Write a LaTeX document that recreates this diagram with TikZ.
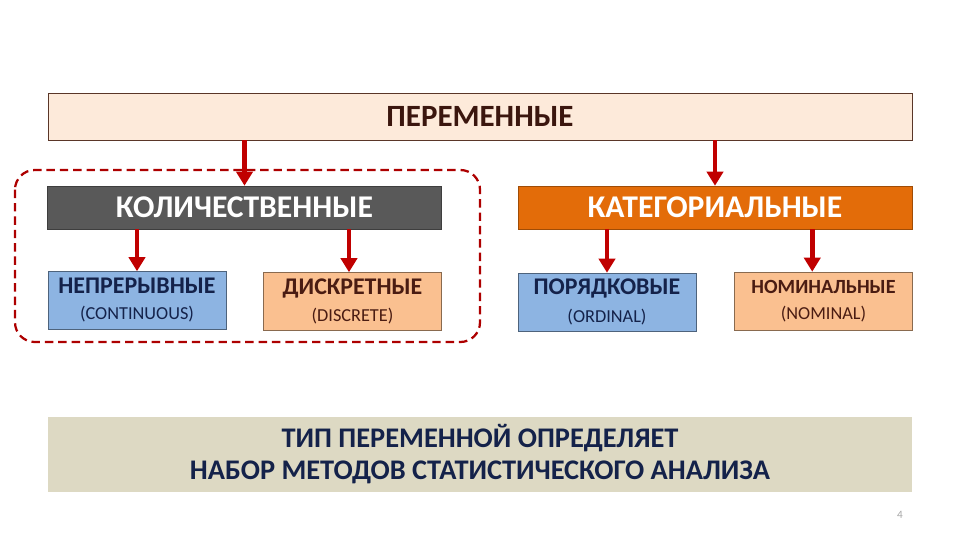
\documentclass[tikz,border=0pt]{standalone}
\usepackage{fontspec}
\setmainfont{Carlito}
\usepackage{xcolor}
\usetikzlibrary{arrows.meta,positioning,calc}

\definecolor{arrowred}{HTML}{C00000}
\definecolor{topfill}{HTML}{FDEADA}
\definecolor{topdraw}{HTML}{5A3628}
\definecolor{quantfill}{HTML}{595959}
\definecolor{catfill}{HTML}{E36C09}
\definecolor{bluefill}{HTML}{8DB4E2}
\definecolor{orangefill}{HTML}{FAC090}
\definecolor{navytext}{HTML}{14224A}
\definecolor{browntext}{HTML}{4A1C12}
\definecolor{bandfill}{HTML}{DDD9C3}

\tikzset{
    mainbox/.style={draw=topdraw, fill=topfill, minimum width=21.6cm, minimum height=1.175cm, inner sep=0pt},
    groupbox/.style={draw=#1!70!black, fill=#1, minimum width=9.85cm, minimum height=1.075cm, inner sep=0pt,
        text=white, font=\fontsize{22.5}{26}\selectfont\bfseries},
    leafbox/.style={draw=#1!55!black, fill=#1, minimum width=4.45cm, minimum height=1.45cm, inner sep=0pt,
        align=center},
    bigarrow/.style={arrowred, line width=3.5pt, -{Triangle[width=11.5pt,length=10pt]}},
}

\begin{document}
\begin{tikzpicture}[x=0.025cm, y=-0.025cm]
    \useasboundingbox (0,0) rectangle (960,540);

    % Top level
    \node[mainbox, font=\fontsize{22}{26}\selectfont\bfseries, text=browntext!80!black] (var) at (480,116.5) {ПЕРЕМЕННЫЕ};

    % Second level
    \node[groupbox=quantfill] (quant) at (244.5,207.5) {КОЛИЧЕСТВЕННЫЕ};
    \node[groupbox=catfill] (cat) at (715,207.5) {КАТЕГОРИАЛЬНЫЕ};

    % Leaves
    \node[leafbox=bluefill, text=navytext] (cont) at (137,300.5)
        {{\fontsize{17}{20}\selectfont\bfseries НЕПРЕРЫВНЫЕ}\\[6.5pt]{\fontsize{13}{15}\selectfont (CONTINUOUS)}};
    \node[leafbox=orangefill, text=browntext] (disc) at (352.5,301.5)
        {{\fontsize{17}{20}\selectfont\bfseries ДИСКРЕТНЫЕ}\\[6.5pt]{\fontsize{13}{15}\selectfont (DISCRETE)}};
    \node[leafbox=bluefill, text=navytext] (ord) at (607,302)
        {{\fontsize{17}{20}\selectfont\bfseries ПОРЯДКОВЫЕ}\\[6.5pt]{\fontsize{13}{15}\selectfont (ORDINAL)}};
    \node[leafbox=orangefill, text=browntext] (nom) at (823.5,301)
        {{\fontsize{14.3}{17}\selectfont\bfseries НОМИНАЛЬНЫЕ}\\[6.5pt]{\fontsize{13}{15}\selectfont (NOMINAL)}};

    % Arrows
    \draw[bigarrow] (quant.north |- var.south) -- (quant.north);
    \draw[bigarrow] (cat.north |- var.south) -- (cat.north);
    \draw[bigarrow] (cont.north |- quant.south) -- (cont.north);
    \draw[bigarrow] ([xshift=-2.5pt]disc.north |- quant.south) -- ([xshift=-2.5pt]disc.north);
    \draw[bigarrow] (ord.north |- cat.south) -- (ord.north);
    \draw[bigarrow] ([xshift=-8pt]nom.north |- cat.south) -- ([xshift=-8pt]nom.north);

    % Quantitative group frame
    \draw[arrowred!90!black, line width=1.6pt, dash pattern=on 6pt off 3.5pt, rounded corners=14pt]
        (15,170) rectangle (480,342);

    % Bottom band
    \node[fill=bandfill, minimum width=21.6cm, minimum height=1.875cm, inner sep=0pt, align=center,
        text=navytext, font=\fontsize{20.2}{22.7}\selectfont\bfseries] (note) at (480,454.5)
        {ТИП ПЕРЕМЕННОЙ ОПРЕДЕЛЯЕТ\\НАБОР МЕТОДОВ СТАТИСТИЧЕСКОГО АНАЛИЗА};

    \node[text=gray!70, font=\fontsize{8}{10}\selectfont] (page) at (900,515) {4};
\end{tikzpicture}
\end{document}
